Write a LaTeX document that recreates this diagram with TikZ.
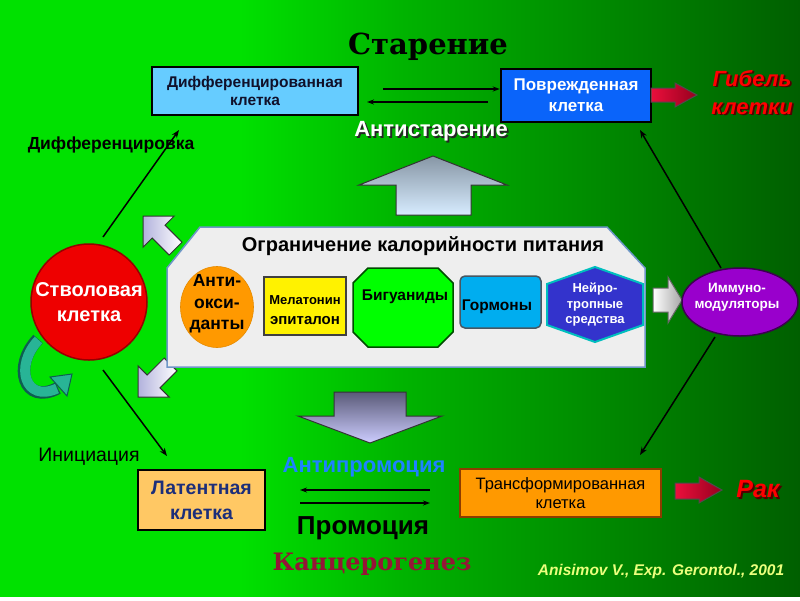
\documentclass[tikz,border=0pt]{standalone}
\usepackage{fontspec}
\setmainfont{Liberation Sans}
\newfontfamily\serf{DejaVu Serif}
\usetikzlibrary{arrows.meta,shapes.geometric}
\definecolor{gA}{RGB}{0,225,0}
\definecolor{gB}{RGB}{0,180,0}
\definecolor{gC}{RGB}{0,95,0}
\definecolor{diffblue}{RGB}{102,204,255}
\definecolor{dmgblue}{RGB}{10,100,250}
\definecolor{latorange}{RGB}{255,200,100}
\definecolor{trorange}{RGB}{255,153,0}
\definecolor{trborder}{RGB}{140,60,0}
\definecolor{stemred}{RGB}{238,0,0}
\definecolor{stemborder}{RGB}{150,0,0}
\definecolor{immpurple}{RGB}{153,0,204}
\definecolor{hexblue}{RGB}{51,51,204}
\definecolor{hexborder}{RGB}{0,190,190}
\definecolor{contfill}{RGB}{238,238,238}
\definecolor{contborder}{RGB}{110,150,200}
\definecolor{navytext}{RGB}{16,16,42}
\definecolor{lattext}{RGB}{28,46,122}
\definecolor{antiblue}{RGB}{30,130,255}
\definecolor{maroon}{RGB}{150,20,55}
\definecolor{paleyellow}{RGB}{235,255,125}
\definecolor{tealdark}{RGB}{14,94,80}
\definecolor{teallight}{RGB}{40,180,150}
\definecolor{redA}{RGB}{235,15,60}
\definecolor{redB}{RGB}{150,0,30}
\definecolor{shadowred}{RGB}{80,0,0}
\pgfdeclarehorizontalshading{bggreen}{100bp}{color(0bp)=(gA); color(25bp)=(gA); color(40bp)=(gA); color(50bp)=(gB); color(75bp)=(gC); color(100bp)=(gC)}
\newcommand{\fsz}[2]{\fontsize{#1}{#2}\selectfont}
\newcommand{\shtext}[2]{\leavevmode\rlap{\kern1.8pt\raisebox{-1.8pt}{\color{#1}#2}}#2}
\begin{document}
\begin{tikzpicture}[x=1pt,y=-1pt,
  bx/.style={draw=black, line width=2.5pt, inner sep=0pt, align=center},
  conn/.style={line width=1.5pt, -{Stealth[length=8pt,width=6pt]}},
  pair/.style={line width=1.6pt, -{Stealth[length=7pt,width=5pt]}},
  txt/.style={inner sep=0pt, align=center},
  blockarrow/.style={draw=black!80, line width=1pt},
]
\useasboundingbox (0,0) rectangle (800,600);
\fill[white] (0,0) rectangle (800,600);
\shade[shading=bggreen] (0,0) rectangle (800,596);

% titles
\node[txt, font=\serf\bfseries\fsz{29}{32}] (title) at (428,47) {Старение};
\node[txt, font=\serf\bfseries\fsz{24}{28}, text=maroon] (carc) at (372,564) {Канцерогенез};

% top boxes
\node[bx, fill=diffblue, minimum width=206pt, minimum height=48pt, text=navytext, font=\bfseries\fsz{15.5}{18}] (diff) at (255,91)
  {Дифференцированная\\клетка};
\node[bx, fill=dmgblue, minimum width=150pt, minimum height=53pt, text=white, font=\bfseries\fsz{17}{21}] (dmg) at (576,95.5)
  {Поврежденная\\клетка};

\coordinate (a1s) at (383,89);
\coordinate (a1e) at (dmg.west |- a1s);
\draw[pair] (a1s) -- (a1e);
\coordinate (a2s) at (488,102);
\coordinate (a2e) at (367,102);
\draw[pair] (a2s) -- (a2e);

\node[txt, text=white, font=\bfseries\fsz{22}{24}] (antiage) at (431,132) {\shtext{black!85}{Антистарение}};

% red arrow top
\shade[left color=redA, right color=redB, blockarrow, draw=black!70]
  (651,88) -- (675,88) -- (675,83) -- (697,95) -- (675,107) -- (675,102) -- (651,102) -- cycle;
\node[txt, text=red, font=\bfseries\itshape\fsz{22}{28}] (death) at (752,93) {\shtext{shadowred}{Гибель}\\\shtext{shadowred}{клетки}};

% stem cell
\node[circle, draw=stemborder, line width=1.5pt, fill=stemred, minimum size=116pt, inner sep=0pt,
  text=white, align=center, font=\bfseries\fsz{20}{25}] (stem) at (89,302) {Стволовая\\клетка};

\node[txt, font=\bfseries\fsz{17.5}{20}] (difflab) at (111,145) {Дифференцировка};
\node[txt, font=\fsz{19.5}{22}] (initlab) at (89,457) {Инициация};

\coordinate (d1) at (103,237);
\coordinate (d2) at (179,130);
\draw[conn] (d1) -- (d2);
\coordinate (i1) at (103,370);
\coordinate (i2) at (167,456);
\draw[conn] (i1) -- (i2);

% teal curved arrow
\draw[tealdark, line width=12.5pt] (38,339) .. controls (12,366) and (24,406) .. (58,388);
\draw[teallight, line width=10pt] (38.5,340) .. controls (14,366) and (25,403) .. (57,388.5);
\fill[teallight, draw=tealdark, line width=1pt] (50,377) -- (72,374) -- (67,396) -- cycle;

% small diagonal arrows
\shade[left color=black!45!blue!30!white, right color=white, blockarrow]
  (143,216) -- (174.2,216) -- (165,225.2) -- (182,242.2) -- (169.2,255) -- (152.2,238) -- (143,247.2) -- cycle;
\shade[left color=black!45!blue!30!white, right color=white, blockarrow]
  (138,397) -- (138,365.8) -- (147.2,375) -- (164.2,358) -- (177,370.8) -- (160,387.8) -- (169.2,397) -- cycle;

% big up/down arrows
\shade[top color={rgb,255:red,135;green,150;blue,165}, bottom color={rgb,255:red,215;green,236;blue,255}, blockarrow]
  (433,156) -- (507,185) -- (471,185) -- (471,215) -- (396,215) -- (396,185) -- (359,185) -- cycle;
\shade[top color={rgb,255:red,90;green,90;blue,120}, bottom color={rgb,255:red,205;green,205;blue,255}, blockarrow]
  (334,392) -- (406,392) -- (406,416) -- (442,416) -- (370,443) -- (298,416) -- (334,416) -- cycle;

% container
\draw[fill=contfill, draw=contborder, line width=1.5pt]
  (167,268) -- (200,227) -- (607,227) -- (645,268) -- (645,367) -- (167,367) -- cycle;
\node[txt, font=\bfseries\fsz{20}{22}] (cont) at (423,246) {Ограничение калорийности питания};

\node[ellipse, fill=trorange, draw=trorange!90!black, line width=0.6pt, minimum width=73pt, minimum height=81pt, inner sep=0pt] (aox) at (217,307) {};
\node[txt, font=\bfseries\fsz{17.5}{21.5}] (aoxt) at (217,304) {Анти-\\окси-\\данты};

\node[draw=black!75, line width=1.5pt, fill=yellow, minimum width=82pt, minimum height=58pt, inner sep=0pt] (mel) at (305,306) {};
\node[txt, font=\bfseries\fsz{13}{15}] (melt1) at (305,300) {Мелатонин};
\node[txt, font=\bfseries\fsz{15}{17}] (melt2) at (305,321) {эпиталон};

\draw[fill={rgb,255:red,0;green,255;blue,0}, draw=black!70!green, line width=1.5pt]
  (368,268) -- (438,268) -- (453,283) -- (453,332) -- (438,347) -- (368,347) -- (353,332) -- (353,283) -- cycle;
\node[txt, font=\bfseries\fsz{15.5}{18}] (big) at (405,297) {Бигуаниды};

\node[draw=black!70!cyan, line width=1.5pt, fill=cyan, rounded corners=5pt, minimum width=81pt, minimum height=52pt, inner sep=0pt] (gor) at (500.5,302) {};
\node[txt, font=\bfseries\fsz{15.5}{18}] (gort) at (497,307) {Гормоны};

\draw[fill=hexblue, draw=hexborder, line width=2pt]
  (595,267) -- (643,284) -- (643,325) -- (595,342) -- (547,325) -- (547,284) -- cycle;
\node[txt, text=white, font=\bfseries\fsz{13}{15.5}] (neur) at (595,305) {Нейро-\\тропные\\средства};

% white arrow
\shade[left color=white, right color=black!35, blockarrow, draw=black!60]
  (653,288) -- (668,288) -- (668,277) -- (682,300) -- (668,323) -- (668,312) -- (653,312) -- cycle;

% immuno
\node[ellipse, fill=immpurple, draw={rgb,255:red,60;green,0;blue,80}, line width=1.5pt, minimum width=116pt, minimum height=68pt, inner sep=0pt] (imm) at (740,302) {};
\node[txt, text=white, font=\bfseries\fsz{13.5}{16}] (immt) at (737,297) {Иммуно-\\модуляторы};

\coordinate (r1) at (721,268);
\coordinate (r2) at (640,130);
\draw[conn] (r1) -- (r2);
\coordinate (r3) at (715,337);
\coordinate (r4) at (640,455);
\draw[conn] (r3) -- (r4);

% bottom boxes
\node[bx, fill=latorange, minimum width=127pt, minimum height=60pt, text=lattext, font=\bfseries\fsz{19.5}{25}] (lat) at (201.5,500)
  {Латентная\\клетка};
\node[bx, fill=trorange, draw=trborder, line width=2pt, minimum width=201pt, minimum height=48pt, text=black, font=\fsz{16.5}{19}] (tr) at (560.5,493)
  {Трансформированная\\клетка};

\node[txt, text=antiblue, font=\bfseries\fsz{22}{24}] (antiprom) at (364,467) {Антипромоция};
\coordinate (b1s) at (430,490);
\coordinate (b1e) at (300,490);
\draw[pair] (b1s) -- (b1e);
\coordinate (b2s) at (300,503);
\coordinate (b2e) at (430,503);
\draw[pair] (b2s) -- (b2e);
\node[txt, font=\bfseries\fsz{26}{28}] (prom) at (363,528) {Промоция};

% red arrow bottom
\shade[left color=redA, right color=redB, blockarrow, draw=black!70]
  (675,483) -- (699,483) -- (699,477) -- (722,490) -- (699,503) -- (699,499) -- (675,499) -- cycle;
\node[txt, text=red, font=\bfseries\itshape\fsz{25}{28}] (cancer) at (758,490) {\shtext{shadowred}{Рак}};

\node[txt, text=paleyellow, font=\bfseries\itshape\fsz{15.5}{18}] (ref) at (661,571) {Anisimov V., Exp. Gerontol., 2001};
\end{tikzpicture}
\end{document}
